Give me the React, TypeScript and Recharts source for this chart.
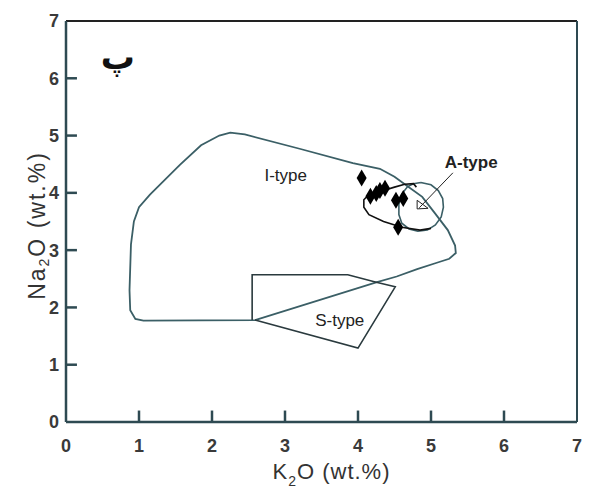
import React from 'react';
import { ComposedChart, Line, Scatter, XAxis, YAxis, ReferenceLine, ReferenceDot } from 'recharts';

type P = { x: number; y: number };

const xTicks = [0, 1, 2, 3, 4, 5, 6, 7];
const yTicks = [0, 1, 2, 3, 4, 5, 6, 7];

const iTypeOutline: P[] = [
  { x: 2.59, y: 1.78 }, { x: 1.06, y: 1.77 }, { x: 0.95, y: 1.8 }, { x: 0.88, y: 1.95 },
  { x: 0.87, y: 2.3 }, { x: 0.89, y: 3.1 }, { x: 0.93, y: 3.5 }, { x: 1.0, y: 3.75 },
  { x: 1.15, y: 3.97 }, { x: 1.56, y: 4.49 }, { x: 1.85, y: 4.83 }, { x: 2.1, y: 5.0 },
  { x: 2.25, y: 5.05 }, { x: 2.45, y: 5.02 }, { x: 3.2, y: 4.77 }, { x: 3.93, y: 4.52 },
  { x: 4.3, y: 4.42 }, { x: 4.5, y: 4.28 }, { x: 4.65, y: 4.14 }, { x: 4.88, y: 3.93 },
  { x: 5.05, y: 3.65 }, { x: 5.23, y: 3.35 }, { x: 5.33, y: 3.08 }, { x: 5.34, y: 2.95 },
  { x: 5.25, y: 2.85 }, { x: 5.08, y: 2.78 }, { x: 4.81, y: 2.67 }, { x: 4.53, y: 2.54 },
  { x: 4.26, y: 2.44 }, { x: 2.59, y: 1.78 },
];

const sTypeOutline: P[] = [
  { x: 2.55, y: 1.78 }, { x: 2.55, y: 2.57 }, { x: 3.86, y: 2.57 }, { x: 4.25, y: 2.44 },
  { x: 4.51, y: 2.36 }, { x: 4.0, y: 1.29 }, { x: 2.59, y: 1.78 },
];

const aTypeOutline: P[] = [
  { x: 4.86, y: 4.18 }, { x: 5.0, y: 4.14 }, { x: 5.1, y: 4.04 }, { x: 5.16, y: 3.9 },
  { x: 5.17, y: 3.75 }, { x: 5.14, y: 3.58 }, { x: 5.06, y: 3.44 }, { x: 4.95, y: 3.35 },
  { x: 4.82, y: 3.33 }, { x: 4.7, y: 3.37 }, { x: 4.6, y: 3.47 }, { x: 4.56, y: 3.62 },
  { x: 4.56, y: 3.8 }, { x: 4.6, y: 3.98 }, { x: 4.68, y: 4.11 }, { x: 4.76, y: 4.16 },
  { x: 4.86, y: 4.18 },
];

const sampleField: P[] = [
  { x: 4.8, y: 4.1 }, { x: 4.76, y: 4.16 }, { x: 4.64, y: 4.15 }, { x: 4.5, y: 4.1 },
  { x: 4.35, y: 4.04 }, { x: 4.15, y: 3.97 }, { x: 4.08, y: 3.88 }, { x: 4.08, y: 3.75 },
  { x: 4.15, y: 3.62 }, { x: 4.35, y: 3.5 }, { x: 4.6, y: 3.4 }, { x: 4.85, y: 3.35 },
  { x: 5.0, y: 3.38 },
];

const arrowLine: P[] = [{ x: 5.3, y: 4.35 }, { x: 4.84, y: 3.74 }];
const arrowHead: P[] = [
  { x: 4.81, y: 3.87 }, { x: 4.81, y: 3.72 }, { x: 4.96, y: 3.73 }, { x: 4.81, y: 3.87 },
];

const samples: P[] = [
  { x: 4.05, y: 4.26 }, { x: 4.17, y: 3.94 }, { x: 4.25, y: 3.99 }, { x: 4.3, y: 4.04 },
  { x: 4.37, y: 4.08 }, { x: 4.52, y: 3.87 }, { x: 4.62, y: 3.9 }, { x: 4.55, y: 3.4 },
];

const fieldLabels = [
  { x: 3.01, y: 4.31, text: 'I-type', bold: false },
  { x: 3.75, y: 1.78, text: 'S-type', bold: false },
  { x: 5.55, y: 4.54, text: 'A-type', bold: true },
];

const AXIS = '#2e4a52';
const FIELD = '#3b5f66';
const FONT = 'Liberation Sans, Arial, sans-serif';
// inward tick-mark lengths, in axis units (about 10-11 px)
const TICK_LEN_ON_X = 0.2;
const TICK_LEN_ON_Y = 0.15;

const Diamond = (props: any) => {
  const { cx, cy } = props;
  if (cx == null || cy == null) return null;
  return <path d={`M${cx},${cy - 8.5} L${cx + 5},${cy} L${cx},${cy + 8.5} L${cx - 5},${cy} Z`} fill="#000" />;
};

const XTitle = (props: any) => {
  const vb = props.viewBox || {};
  const cx = vb.x + vb.width / 2 + 10;
  const y = vb.y + 57;
  return (
    <text x={cx} y={y} textAnchor="middle" fontFamily={FONT} fontSize={22} fill="#333" letterSpacing={1}>
      <tspan>K</tspan>
      <tspan dy={7} fontSize={14}>2</tspan>
      <tspan dy={-7}>O (wt.%)</tspan>
    </text>
  );
};

const YTitle = (props: any) => {
  const vb = props.viewBox || {};
  const x = vb.x + 21;
  const cy = vb.y + vb.height / 2 + 4;
  return (
    <text x={x} y={cy} transform={`rotate(-90 ${x} ${cy})`} textAnchor="middle" dominantBaseline="central"
      fontFamily={FONT} fontSize={23} fill="#333" letterSpacing={2}>
      <tspan>Na</tspan>
      <tspan dy={7} fontSize={14}>2</tspan>
      <tspan dy={-7}>O (wt.%)</tspan>
    </text>
  );
};

const tickFont = { fontSize: 18, fill: '#3a3a3a', fontFamily: FONT, fontWeight: 'bold' };

export default function App() {
  const lineProps = { dot: false, activeDot: false, isAnimationActive: false, type: 'linear' as const, dataKey: 'y', legendType: 'none' as const };
  const innerX = xTicks.filter((t) => t > 0 && t < 7);
  const innerY = yTicks.filter((t) => t > 0 && t < 7);
  return (
    <ComposedChart width={582} height={485} margin={{ top: 13, right: 13, bottom: 21, left: 8 }}>
      <XAxis
        type="number" dataKey="x" domain={[0, 7]} ticks={xTicks} height={50}
        stroke={AXIS} axisLine={{ strokeWidth: 2.5 }} tickLine={false}
        tickSize={0} tickMargin={17}
        tick={tickFont}
        label={{ content: XTitle }}
      />
      <YAxis
        type="number" dataKey="y" domain={[0, 7]} ticks={yTicks} width={50}
        stroke={AXIS} axisLine={{ strokeWidth: 2.5 }} tickLine={false}
        tickSize={0} tickMargin={7}
        tick={tickFont}
        label={{ content: YTitle }}
      />
      <ReferenceLine y={7} stroke="#222" strokeWidth={2} />
      <ReferenceLine x={7} stroke={AXIS} strokeWidth={2} />
      {innerX.map((t) => (
        <Line key={`xt${t}`} {...lineProps} data={[{ x: t, y: 0 }, { x: t, y: TICK_LEN_ON_X }]} stroke={AXIS} strokeWidth={2.5} />
      ))}
      {innerY.map((t) => (
        <Line key={`yt${t}`} {...lineProps} data={[{ x: 0, y: t }, { x: TICK_LEN_ON_Y, y: t }]} stroke={AXIS} strokeWidth={2.5} />
      ))}
      <Line {...lineProps} data={iTypeOutline} stroke={FIELD} strokeWidth={1.8} />
      <Line {...lineProps} data={sTypeOutline} stroke="#2a3a3e" strokeWidth={1.6} />
      <Line {...lineProps} data={aTypeOutline} stroke={FIELD} strokeWidth={1.6} />
      <Line {...lineProps} data={sampleField} stroke="#111" strokeWidth={1.6} />
      <Line {...lineProps} data={arrowLine} stroke="#222" strokeWidth={1} />
      <Line {...lineProps} data={arrowHead} stroke="#222" strokeWidth={1} />
      <Scatter data={samples} dataKey="y" shape={Diamond} isAnimationActive={false} />
      {fieldLabels.map((l) => (
        <ReferenceDot key={l.text} x={l.x} y={l.y} r={1} fillOpacity={0} strokeOpacity={0}
          label={{ value: l.text, position: 'center', fontSize: 17, fill: '#222', fontFamily: FONT, fontWeight: l.bold ? 'bold' : 'normal' }} />
      ))}
      <ReferenceDot x={0.71} y={6.37} r={1} fillOpacity={0} strokeOpacity={0}
        label={{ value: 'پ', position: 'center', fontSize: 34, fill: '#111', fontFamily: 'DejaVu Sans', fontWeight: 'bold' }} />
    </ComposedChart>
  );
}
